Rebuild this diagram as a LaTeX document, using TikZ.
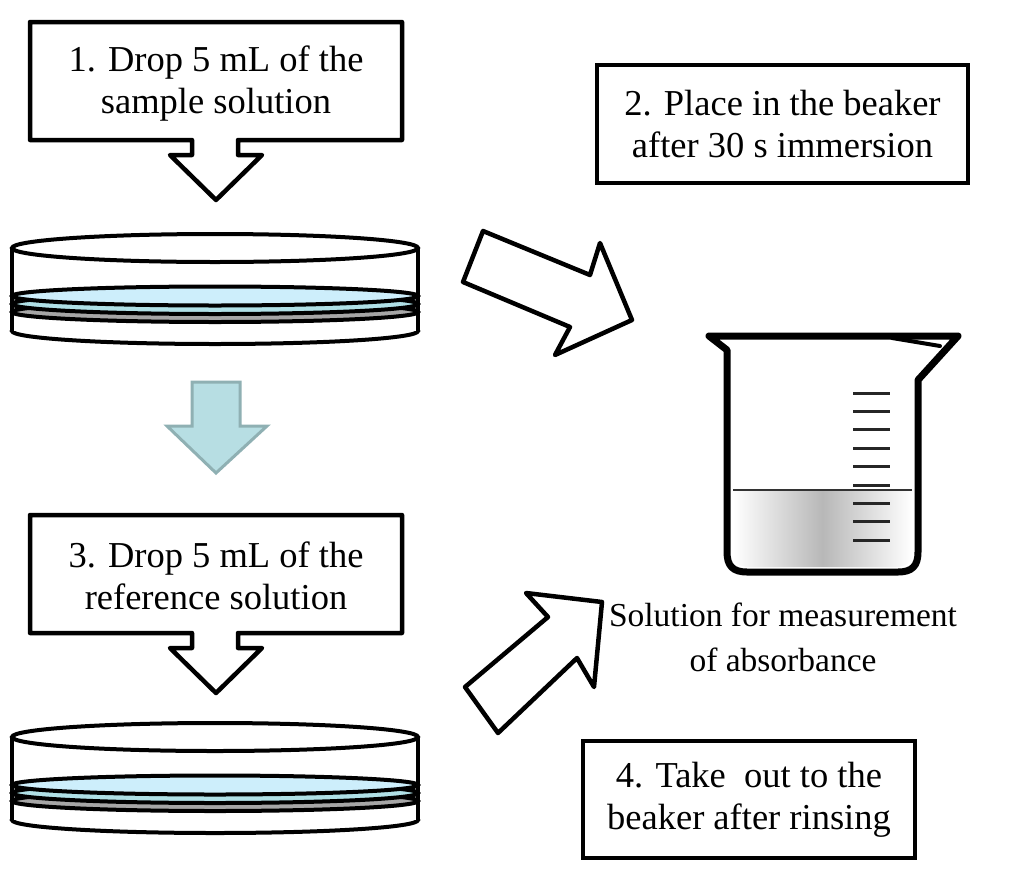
\documentclass[tikz,border=0pt]{standalone}
\usepackage{fontspec}
\setmainfont{Liberation Serif}
\definecolor{liqtop}{HTML}{CDEEFB}
\definecolor{liqband}{HTML}{B0E0E6}
\definecolor{dishgray}{HTML}{A6A6A6}
\definecolor{bluearrowfill}{HTML}{B7DEE3}
\definecolor{bluearrowline}{HTML}{8FB0B3}
\begin{document}
\begin{tikzpicture}[x=1pt,y=-1pt]
\tikzset{
  outl/.style={draw=black, line width=4.5pt, line join=round, fill=white},
  boxtext/.style={align=center, font=\fontsize{36.5}{42}\selectfont, inner sep=0pt},
  labtext/.style={align=center, font=\fontsize{33.5}{45}\selectfont, inner sep=0pt},
  dishline/.style={draw=black, line width=4pt},
  beakerline/.style={draw=black, line width=7pt, line join=round, line cap=round},
  tick/.style={draw=black!85, line width=3pt},
}
\useasboundingbox (0,0) rectangle (1024,878);
\fill[white] (0,0) rectangle (1024,878);

% ---------- petri dishes ----------
\foreach \T in {248,737}{
  \draw[dishline, fill=white] (215,\T+83) ellipse [x radius=203, y radius=13];
  \fill[white] (12,\T) rectangle (418,\T+83);
  \draw[dishline, fill=dishgray] (215,\T+64) ellipse [x radius=203, y radius=10];
  \draw[dishline, fill=liqband] (215,\T+56) ellipse [x radius=203, y radius=10];
  \draw[dishline, fill=liqtop] (215,\T+48) ellipse [x radius=203, y radius=9.5];
  \draw[dishline] (12,\T) -- (12,\T+83);
  \draw[dishline] (418,\T) -- (418,\T+83);
  \draw[dishline, fill=white] (215,\T) ellipse [x radius=203, y radius=14];
}

% ---------- callout box 1 ----------
\draw[outl] (30,22) -- (402,22) -- (402,140) -- (238,140) -- (238,155) -- (262,155)
  -- (216,200) -- (170,155) -- (192,155) -- (192,140) -- (30,140) -- cycle;
\node[boxtext] (t1) at (216,84) {1. Drop 5 mL of the\\sample solution};

% ---------- callout box 3 ----------
\draw[outl] (30,515) -- (402,515) -- (402,633) -- (238,633) -- (238,648) -- (262,648)
  -- (216,693) -- (170,648) -- (192,648) -- (192,633) -- (30,633) -- cycle;
\node[boxtext] (t3) at (216,576) {3. Drop 5 mL of the\\reference solution};

% ---------- box 2 ----------
\node[draw=black, line width=4.5pt, fill=white, minimum width=371pt, minimum height=118pt,
  inner sep=0pt] (b2) at (782.5,124) {};
\node[boxtext] (t2) at (b2.center) {2. Place in the beaker\\after 30 s immersion};

% ---------- box 4 ----------
\node[draw=black, line width=4.5pt, fill=white, minimum width=332pt, minimum height=117pt,
  inner sep=0pt] (b4) at (749,799.5) {};
\node[boxtext] (t4) at (b4.center) {4. Take\ \ out to the\\beaker after rinsing};

% ---------- blue down arrow ----------
\draw[fill=bluearrowfill, draw=bluearrowline, line width=3pt, line join=miter]
  (192,382) -- (240,382) -- (240,426) -- (267,426) -- (216,473) -- (167,426) -- (192,426) -- cycle;

% ---------- block arrow down-right ----------
\draw[outl] (483,231) -- (590,275) -- (600,243) -- (632,320) -- (555,355) -- (570,327) -- (463,282) -- cycle;

% ---------- block arrow up-right ----------
\draw[outl] (465,687) -- (548,617) -- (526,593) -- (602,602) -- (594,687) -- (577,658) -- (498,733) -- cycle;

% ---------- beaker ----------
\shade[left color=white, right color=white, middle color=black!28]
  (733,490) -- (912,490) -- (912,552) .. controls (912,562) and (906,567) .. (896,567)
  -- (749,567) .. controls (739,567) and (733,562) .. (733,552) -- cycle;
\draw[line width=2pt, black!80] (733,490) -- (912,490);
\foreach \y in {393,411.4,429.8,448.2,466.6,485,503.4,521.8,540.2}{
  \draw[tick] (853,\y) -- (890,\y);
}
\draw[beakerline] (727,552) -- (727,350) -- (709,336) -- (958,336) -- (918,380) -- (918,552)
  .. controls (918,566) and (912,572) .. (898,572) -- (747,572)
  .. controls (733,572) and (727,566) .. (727,552) -- cycle;
\draw[line width=4pt, line cap=round] (892,338) -- (940,346);
\coordinate (beaker) at (822,455);

% ---------- label ----------
\node[labtext] (lab) at (783,637) {Solution for measurement\\of absorbance};
\end{tikzpicture}
\end{document}
